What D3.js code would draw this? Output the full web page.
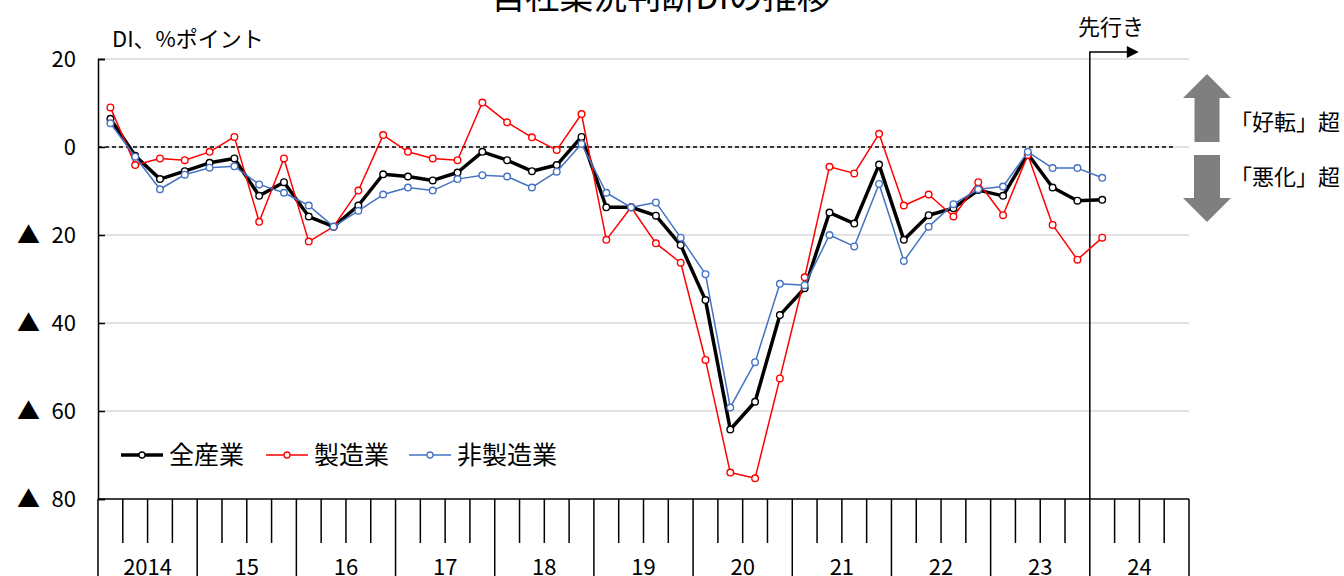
<!DOCTYPE html>
<html lang="ja">
<head>
<meta charset="utf-8">
<script src="https://cdn.jsdelivr.net/npm/d3@7"></script>
<style>
    body { margin: 0; background: #fff; }
    #chart text { font-family: "Noto Sans CJK JP", "Noto Sans", sans-serif; fill: #000; }
</style>
</head>
<body>
<div id="chart"></div>
<script>
// year labels on the x axis (each year = 4 quarters)
const years = ["2014", "15", "16", "17", "18", "19", "20", "21", "22", "23", "24"];
const quarters = years.flatMap(yr => ["Q1", "Q2", "Q3", "Q4"].map(q => yr + q));

// y axis ticks (negative values shown with ▲)
const yTicks = [20, 0, -20, -40, -60, -80];

// DI values, 2014Q1 .. 2024Q1 (last one is the outlook)
const allIndustries = [
    6.4, -2.0, -7.3, -5.5, -3.6, -2.6, -11.1, -8.0, -15.8, -18.1, -13.3,
    -6.2, -6.7, -7.6, -5.8, -1.1, -3.0, -5.5, -4.1, 2.3, -13.7, -13.7,
    -15.6, -22.3, -34.8, -64.2, -57.9, -38.2, -32.1, -14.9, -17.4, -4.0,
    -21.1, -15.5, -13.9, -9.8, -11.1, -1.6, -9.2, -12.2, -12.0
];
const manufacturing = [
    9.0, -4.1, -2.6, -3.0, -1.1, 2.3, -17.0, -2.6, -21.5, -18.1, -9.9,
    2.7, -1.1, -2.6, -3.0, 10.1, 5.6, 2.2, -0.7, 7.5, -21.1, -13.7,
    -21.9, -26.3, -48.4, -74.0, -75.3, -52.6, -29.6, -4.5, -6.0, 3.0,
    -13.3, -10.8, -15.8, -8.0, -15.5, -1.8, -17.7, -25.6, -20.6
];
const nonManufacturing = [
    5.4, -2.2, -9.6, -6.3, -4.7, -4.4, -8.5, -10.4, -13.3, -18.1, -14.5,
    -10.8, -9.2, -9.9, -7.3, -6.4, -6.7, -9.2, -5.6, 0.7, -10.4, -13.7,
    -12.6, -20.6, -28.9, -59.2, -48.9, -31.1, -31.4, -20.0, -22.6, -8.4,
    -25.9, -18.1, -13.0, -9.6, -9.0, -1.1, -4.8, -4.8, -7.0
];
const forecastIndex = 40;

const seriesNames = ["全産業", "製造業", "非製造業"];

function getDimensions() {
    const width = 1344;
    const height = 576;
    const margin = { top: 59, right: 155, bottom: 77, left: 98 };
    return { width, height, margin };
}

function drawChart() {
    const dims = getDimensions();
    const left = dims.margin.left;
    const right = dims.width - dims.margin.right;
    const top = dims.margin.top;
    const bottom = dims.height - dims.margin.bottom;

    const svg = d3.select("#chart")
        .append("svg")
        .attr("width", dims.width)
        .attr("height", dims.height);

    const x = d3.scaleBand()
        .domain(quarters)
        .range([left, right])
        .padding(0);

    const y = d3.scaleLinear()
        .domain([-80, 20])
        .range([bottom, top]);

    const cx = i => x(quarters[i]) + x.bandwidth() / 2;

    // title (cut off by the top edge)
    svg.append("text")
        .attr("x", 661)
        .attr("y", 9)
        .attr("text-anchor", "middle")
        .style("font-size", "34px")
        .text("自社業況判断DIの推移");

    svg.append("text")
        .attr("x", 112)
        .attr("y", 47)
        .style("font-size", "22px")
        .text("DI、%ポイント");

    // horizontal grid
    svg.selectAll("line.grid")
        .data(yTicks.filter(d => d > -80))
        .enter()
        .append("line")
        .attr("class", "grid")
        .attr("x1", left)
        .attr("x2", right)
        .attr("y1", d => y(d))
        .attr("y2", d => y(d))
        .style("stroke", "#d9d9d9")
        .style("stroke-width", 1.5);

    // zero line, dashed
    svg.append("line")
        .attr("x1", left)
        .attr("x2", right - 14)
        .attr("y1", y(0))
        .attr("y2", y(0))
        .style("stroke", "#000")
        .style("stroke-width", 1.5)
        .style("stroke-dasharray", "4,3");

    // y axis
    const yAxis = svg.append("g")
        .attr("transform", `translate(${left},0)`)
        .call(d3.axisRight(y)
            .tickValues(yTicks)
            .tickSize(7)
            .tickFormat(""));
    yAxis.select(".domain").style("stroke-width", 1.5);
    yAxis.selectAll(".tick line").style("stroke-width", 1.5);

    const ylab = svg.selectAll("text.ylab")
        .data(yTicks)
        .enter()
        .append("text")
        .attr("class", "ylab")
        .attr("y", d => y(d))
        .attr("dy", "0.36em")
        .style("font-size", "22px");
    ylab.filter(d => d < 0)
        .append("tspan")
        .attr("x", 17)
        .attr("text-anchor", "start")
        .style("font-size", "23px")
        .text("▲ ");
    ylab.append("tspan")
        .attr("x", 76)
        .attr("text-anchor", "end")
        .text(d => Math.abs(d));

    // x axis
    svg.append("line")
        .attr("x1", left)
        .attr("x2", right)
        .attr("y1", bottom)
        .attr("y2", bottom)
        .style("stroke", "#000")
        .style("stroke-width", 1.5);

    const boundaries = quarters.map((q, i) => i).concat([quarters.length]);
    svg.selectAll("line.qtick")
        .data(boundaries)
        .enter()
        .append("line")
        .attr("class", "qtick")
        .attr("x1", i => i < quarters.length ? x(quarters[i]) : right)
        .attr("x2", i => i < quarters.length ? x(quarters[i]) : right)
        .attr("y1", bottom)
        .attr("y2", i => i % 4 === 0 ? dims.height : bottom + 44)
        .style("stroke", "#000")
        .style("stroke-width", 1.5);

    svg.selectAll("text.year")
        .data(years)
        .enter()
        .append("text")
        .attr("class", "year")
        .attr("x", (d, i) => x(quarters[i * 4]) + x.bandwidth() * 2)
        .attr("y", 575)
        .attr("text-anchor", "middle")
        .style("font-size", "22px")
        .text(d => d);

    // outlook marker
    const fx = x(quarters[forecastIndex]);
    svg.append("path")
        .attr("d", `M${fx},${bottom} L${fx},52 L${fx + 38},52`)
        .style("fill", "none")
        .style("stroke", "#000")
        .style("stroke-width", 1.5);
    svg.append("path")
        .attr("d", `M${fx + 37},46 L${fx + 49},52 L${fx + 37},58 Z`)
        .style("fill", "#000");
    svg.append("text")
        .attr("x", 1111)
        .attr("y", 35)
        .attr("text-anchor", "middle")
        .style("font-size", "22px")
        .text("先行き");

    // series lines
    const series = [
        { name: seriesNames[0], values: allIndustries, color: "#000000", width: 3.5 },
        { name: seriesNames[1], values: manufacturing, color: "#ff0000", width: 1.5 },
        { name: seriesNames[2], values: nonManufacturing, color: "#4472c4", width: 1.5 }
    ];

    const line = d3.line()
        .x((d, i) => cx(i))
        .y(d => y(d));

    series.forEach(s => {
        svg.append("path")
            .datum(s.values)
            .attr("d", line)
            .style("fill", "none")
            .style("stroke", s.color)
            .style("stroke-width", s.width)
            .style("stroke-linejoin", "round");
        svg.selectAll(null)
            .data(s.values)
            .enter()
            .append("circle")
            .attr("cx", (d, i) => cx(i))
            .attr("cy", d => y(d))
            .attr("r", 3.3)
            .style("fill", "#fff")
            .style("stroke", s.color)
            .style("stroke-width", 1.4);
    });

    // legend
    const legendX = [121, 266, 409];
    series.forEach((s, i) => {
        const g = svg.append("g").attr("transform", `translate(${legendX[i]},455)`);
        g.append("line")
            .attr("x1", 0)
            .attr("x2", 42)
            .style("stroke", s.color)
            .style("stroke-width", s.width);
        g.append("circle")
            .attr("cx", 21)
            .attr("r", 3)
            .style("fill", "#fff")
            .style("stroke", s.color)
            .style("stroke-width", 1.3);
        g.append("text")
            .attr("x", 48)
            .attr("dy", "0.36em")
            .style("font-size", "25px")
            .text(s.name);
    });

    // big grey arrows on the right
    const ax = 1207;
    const y0 = y(0);
    const upArrow = [
        [ax, y0 - 73], [ax + 24, y0 - 49], [ax + 12.5, y0 - 49], [ax + 12.5, y0 - 5],
        [ax - 12.5, y0 - 5], [ax - 12.5, y0 - 49], [ax - 24, y0 - 49]
    ];
    const downArrow = [
        [ax, y0 + 75], [ax + 24, y0 + 51], [ax + 13, y0 + 51], [ax + 13, y0 + 8],
        [ax - 13, y0 + 8], [ax - 13, y0 + 51], [ax - 24, y0 + 51]
    ];
    [upArrow, downArrow].forEach(pts => {
        svg.append("path")
            .attr("d", d3.line()(pts) + "Z")
            .style("fill", "#7f7f7f");
    });

    svg.append("text")
        .attr("x", 1230)
        .attr("y", y0 - 25)
        .attr("dy", "0.36em")
        .style("font-size", "22px")
        .text("「好転」超");
    svg.append("text")
        .attr("x", 1230)
        .attr("y", y0 + 30)
        .attr("dy", "0.36em")
        .style("font-size", "22px")
        .text("「悪化」超");
}

drawChart();
</script>
</body>
</html>
